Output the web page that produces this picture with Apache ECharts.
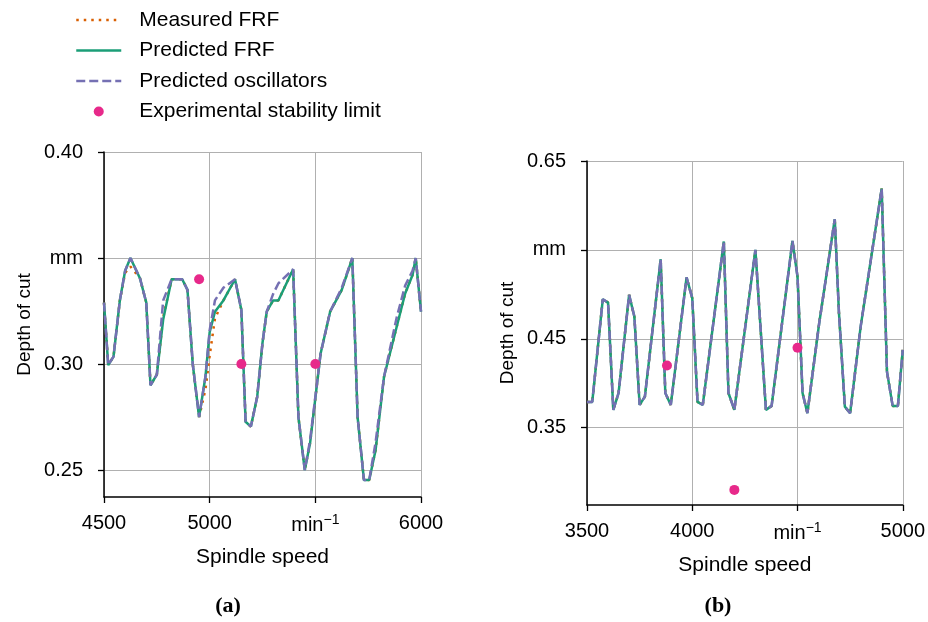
<!DOCTYPE html>
<html>
<head>
<meta charset="utf-8">
<script src="https://cdn.jsdelivr.net/npm/echarts@6.0.0/dist/echarts.min.js"></script>
<style>
  html, body { margin: 0; padding: 0; background: #fff; }
  #chart { width: 928px; height: 622px; }
</style>
</head>
<body>
<div id="chart"></div>
<script>
// ---- panel (a) ----
const speedA = [4500, 4520, 4545, 4575, 4600, 4625, 4670, 4700, 4720, 4750, 4780, 4820, 4870, 4895, 4920, 4950,
  4980, 5000, 5025, 5065, 5120, 5150, 5170, 5195, 5225, 5250, 5270, 5300, 5325, 5395, 5420, 5450,
  5475, 5525, 5570, 5625, 5675, 5700, 5730, 5755, 5785, 5825, 5885, 5925, 5960, 5975, 6000];
const predictedA = [0.329, 0.2995, 0.3035, 0.330, 0.344, 0.350, 0.3405, 0.329, 0.290, 0.295, 0.321, 0.340, 0.340, 0.335, 0.300, 0.275,
  0.294, 0.315, 0.3247, 0.330, 0.340, 0.3255, 0.2728, 0.2705, 0.2846, 0.310, 0.3247, 0.330, 0.330, 0.3447, 0.275, 0.250,
  0.2626, 0.305, 0.3247, 0.335, 0.350, 0.275, 0.2453, 0.2453, 0.2594, 0.294, 0.3176, 0.3333, 0.342, 0.350, 0.3247];
const measuredA = [0.329, 0.2995, 0.3035, 0.330, 0.343, 0.346, 0.3405, 0.329, 0.290, 0.295, 0.322, 0.340, 0.340, 0.335, 0.300, 0.275,
  0.288, 0.304, 0.3215, 0.330, 0.340, 0.3255, 0.2728, 0.2705, 0.2846, 0.310, 0.3247, 0.330, 0.330, 0.3447, 0.275, 0.250,
  0.2626, 0.305, 0.3247, 0.335, 0.350, 0.275, 0.2453, 0.2453, 0.2594, 0.294, 0.3176, 0.3333, 0.342, 0.350, 0.3247];
const oscillatorsA = [0.329, 0.2995, 0.3035, 0.330, 0.344, 0.350, 0.3405, 0.329, 0.290, 0.295, 0.330, 0.340, 0.340, 0.335, 0.300, 0.275,
  0.294, 0.316, 0.330, 0.336, 0.340, 0.3255, 0.2728, 0.2705, 0.2846, 0.310, 0.3247, 0.333, 0.338, 0.3447, 0.275, 0.250,
  0.2640, 0.305, 0.3247, 0.336, 0.350, 0.275, 0.2453, 0.2453, 0.2630, 0.294, 0.3220, 0.3370, 0.344, 0.350, 0.3247];
const limitSpeedA = [4950, 5150, 5500];
const limitDepthA = [0.340, 0.300, 0.300];
const xTicksA = [4500, 5000, 5500, 6000];
const xLabelsA = ['4500', '5000', 'min-1', '6000'];
const yTicksA = [0.25, 0.30, 0.35, 0.40];
const yLabelsA = ['0.25', '0.30', 'mm', '0.40'];

// ---- panel (b) ----
const speedB = [3500, 3525, 3575, 3600, 3625, 3650, 3700, 3725, 3750, 3775, 3850, 3872, 3898, 3973, 4000, 4025,
  4050, 4150, 4172, 4200, 4300, 4350, 4377, 4476, 4500, 4524, 4547, 4603, 4677, 4697, 4725, 4750,
  4800, 4900, 4925, 4952, 4977, 5000];
const predictedB = [0.379, 0.379, 0.4945, 0.4907, 0.370, 0.389, 0.4994, 0.475, 0.3756, 0.385, 0.5395, 0.389, 0.3756, 0.519, 0.4957, 0.379,
  0.3756, 0.5594, 0.389, 0.370, 0.550, 0.370, 0.3745, 0.560, 0.520, 0.389, 0.3663, 0.4675, 0.5845, 0.4788, 0.3737, 0.3663,
  0.4637, 0.619, 0.413, 0.3745, 0.3745, 0.4375];
const measuredB = [0.379, 0.379, 0.4945, 0.4907, 0.370, 0.389, 0.4994, 0.475, 0.3756, 0.385, 0.5395, 0.389, 0.3756, 0.519, 0.4957, 0.379,
  0.3756, 0.5594, 0.389, 0.370, 0.550, 0.370, 0.3745, 0.560, 0.520, 0.389, 0.3663, 0.4675, 0.5845, 0.4788, 0.3737, 0.3663,
  0.4637, 0.619, 0.413, 0.3745, 0.3745, 0.4375];
const oscillatorsB = [0.379, 0.379, 0.4945, 0.4907, 0.370, 0.389, 0.4994, 0.475, 0.3756, 0.385, 0.5395, 0.389, 0.3756, 0.519, 0.4957, 0.379,
  0.3756, 0.5594, 0.389, 0.370, 0.550, 0.370, 0.3745, 0.560, 0.520, 0.389, 0.3663, 0.4675, 0.5845, 0.4788, 0.3737, 0.3663,
  0.4637, 0.619, 0.413, 0.3745, 0.3745, 0.4375];
const limitSpeedB = [3880, 4200, 4500];
const limitDepthB = [0.420, 0.280, 0.440];
const xTicksB = [3500, 4000, 4500, 5000];
const xLabelsB = ['3500', '4000', 'min-1', '5000'];
const yTicksB = [0.35, 0.45, 0.55, 0.65];
const yLabelsB = ['0.35', '0.45', 'mm', '0.65'];

const FONT = 'Liberation Sans';
const pairs = (xs, ys) => xs.map((x, i) => [x, ys[i]]);

function xAxisOf(gridIndex, ticks, labels) {
  return {
    type: 'value', gridIndex: gridIndex,
    min: ticks[0], max: ticks[ticks.length - 1], interval: 500,
    name: 'Spindle speed', nameLocation: 'middle', nameGap: 50,
    nameTextStyle: { fontFamily: FONT, fontSize: 21, color: '#000' },
    axisLine: { lineStyle: { color: '#000', width: 1.5 } },
    axisTick: { length: 6, lineStyle: { color: '#000', width: 1.3 } },
    splitLine: { show: true, lineStyle: { color: '#b0b0b0', width: 1 } },
    axisLabel: {
      margin: 16, fontFamily: FONT, fontSize: 20, color: '#000',
      formatter: function (v) {
        const l = labels[ticks.indexOf(v)];
        return l === 'min-1' ? '{u|min}{s|\u22121}' : l;
      },
      rich: {
        u: { fontFamily: FONT, fontSize: 20, color: '#000' },
        s: { fontFamily: FONT, fontSize: 14, color: '#000', verticalAlign: 'top', padding: [0, 0, 10, 0] }
      }
    }
  };
}

function yAxisOf(gridIndex, min, ticks, labels) {
  return {
    type: 'value', gridIndex: gridIndex,
    min: min, max: ticks[ticks.length - 1],
    name: 'Depth of cut', nameLocation: 'middle', nameGap: 70,
    nameTextStyle: { fontFamily: FONT, fontSize: 19, color: '#000' },
    axisLine: { show: true, lineStyle: { color: '#000', width: 1.5 } },
    axisTick: { show: true, length: 6, customValues: ticks, lineStyle: { color: '#000', width: 1.3 } },
    splitLine: { show: true, lineStyle: { color: '#b0b0b0', width: 1 } },
    axisLabel: {
      margin: 21, fontFamily: FONT, fontSize: 20, color: '#000', customValues: ticks,
      formatter: function (v) {
        let best = 0;
        ticks.forEach((t, i) => { if (Math.abs(t - v) < Math.abs(ticks[best] - v)) best = i; });
        return labels[best];
      }
    }
  };
}

function lineSeries(name, idx, data, color, width, dash, z) {
  return {
    name: name, type: 'line', xAxisIndex: idx, yAxisIndex: idx,
    data: data, symbol: 'none', showSymbol: false, z: z,
    lineStyle: { color: color, width: width, type: dash },
    itemStyle: { color: color },
    animation: false
  };
}

const chart = echarts.init(document.getElementById('chart'));
const series = [];
[[speedA, measuredA, predictedA, oscillatorsA, limitSpeedA, limitDepthA],
 [speedB, measuredB, predictedB, oscillatorsB, limitSpeedB, limitDepthB]].forEach(function (p, idx) {
  series.push(lineSeries('Measured FRF', idx, pairs(p[0], p[1]), '#d95f02', 2.5, [2.5, 5], 2));
  series.push(lineSeries('Predicted FRF', idx, pairs(p[0], p[2]), '#1b9e77', 2.5, 'solid', 3));
  series.push(lineSeries('Predicted oscillators', idx, pairs(p[0], p[3]), '#7570b3', 2.5, [9, 4], 4));
  series.push({
    name: 'Experimental stability limit', type: 'scatter', xAxisIndex: idx, yAxisIndex: idx,
    data: pairs(p[4], p[5]), symbol: 'circle', symbolSize: 10, z: 5,
    itemStyle: { color: '#e7298a', opacity: 1 }, animation: false
  });
});

const hideDot = { opacity: 0 };
chart.setOption({
  backgroundColor: '#fff',
  animation: false,
  legend: {
    orient: 'vertical', left: 75, top: 9.5, padding: 0,
    itemWidth: 45, itemHeight: 10, itemGap: 9.5,
    lineStyle: { width: 2.5 },
    textStyle: { fontFamily: FONT, fontSize: 21, color: '#000', padding: [0, 0, 0, 13] },
    data: [
      { name: 'Measured FRF', itemStyle: hideDot },
      { name: 'Predicted FRF', itemStyle: hideDot },
      { name: 'Predicted oscillators', itemStyle: hideDot },
      { name: 'Experimental stability limit', icon: 'circle' }
    ]
  },
  grid: [
    { left: 104, top: 152, width: 317, height: 345 },
    { left: 587, top: 161, width: 317, height: 344 }
  ],
  xAxis: [xAxisOf(0, xTicksA, xLabelsA), xAxisOf(1, xTicksB, xLabelsB)],
  yAxis: [yAxisOf(0, 0.2373, yTicksA, yLabelsA), yAxisOf(1, 0.263, yTicksB, yLabelsB)],
  graphic: [
    { type: 'text', x: 228, y: 606, style: { text: '(a)', fill: '#000', font: 'bold 22px "Liberation Serif"', align: 'center', verticalAlign: 'middle' } },
    { type: 'text', x: 718, y: 606, style: { text: '(b)', fill: '#000', font: 'bold 22px "Liberation Serif"', align: 'center', verticalAlign: 'middle' } }
  ],
  series: series
});
</script>
</body>
</html>
